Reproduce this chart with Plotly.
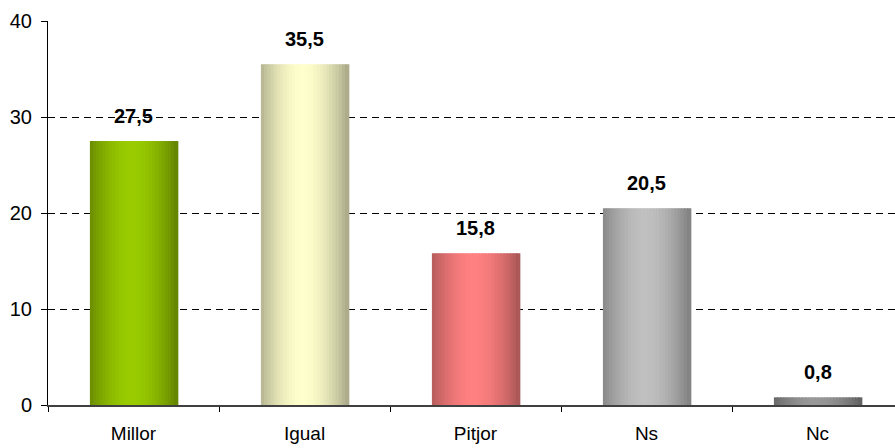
import plotly.graph_objects as go

# Data
categories = ["Millor", "Igual", "Pitjor", "Ns", "Nc"]
values = [27.5, 35.5, 15.8, 20.5, 0.8]
labels = ["27,5", "35,5", "15,8", "20,5", "0,8"]

# gradient colours per bar: (edge, centre)
edge_cols = [(0x62, 0x82, 0x00), (0xA8, 0xA8, 0x88), (0xA8, 0x55, 0x55), (0x80, 0x80, 0x80), (0x60, 0x60, 0x60)]
mid_cols = [(0x99, 0xCC, 0x00), (0xFF, 0xFF, 0xCC), (0xFF, 0x80, 0x80), (0xC0, 0xC0, 0xC0), (0x98, 0x98, 0x98)]

bar_w = 0.51
n_slices = 28
slice_w = bar_w / n_slices


def blend(a, b, f):
    return "rgb(%d,%d,%d)" % tuple(round(a[i] + (b[i] - a[i]) * f) for i in range(3))


fig = go.Figure()
for k in range(n_slices):
    t = (k + 0.5) / n_slices
    d = abs(t - 0.48) / 0.52
    f = max(0.0, 1 - d ** 1.8)
    cols = [blend(edge_cols[i], mid_cols[i], f) for i in range(len(categories))]
    fig.add_trace(go.Bar(
        x=categories, y=values,
        width=slice_w * 1.4,
        offset=-bar_w / 2 + k * slice_w,
        marker=dict(color=cols, line=dict(width=0)),
        hoverinfo="skip", showlegend=False,
    ))

for c, v, lab in zip(categories, values, labels):
    fig.add_annotation(x=c, y=v, text="<b>%s</b>" % lab, showarrow=False,
                       yshift=25, font=dict(size=20, color="black"))

# plot area runs slightly past the right edge of the window, as in the original
fig.update_layout(
    width=903, height=448,
    margin=dict(l=48, r=0, t=21, b=43),
    barmode="overlay",
    plot_bgcolor="white", paper_bgcolor="white",
    font=dict(family="Liberation Sans, Arial", size=19, color="black"),
)
fig.update_yaxes(range=[0, 40], dtick=10, showgrid=True, gridcolor="black",
                 griddash="7px,5px", gridwidth=1, showline=True, linecolor="black",
                 ticks="outside", ticklen=6, tickcolor="black", zeroline=False,
                 tickfont=dict(size=20), ticklabelstandoff=5)
fig.update_xaxes(showline=True, linecolor="#404040", linewidth=1.5,
                 ticks="outside", tickson="boundaries", ticklen=5,
                 tickcolor="black", tickfont=dict(size=19), range=[-0.5, 4.5],
                 ticklabelstandoff=10)

fig.write_html("out.html", config={"displayModeBar": False},
               post_script="document.body.style.margin='0';")
